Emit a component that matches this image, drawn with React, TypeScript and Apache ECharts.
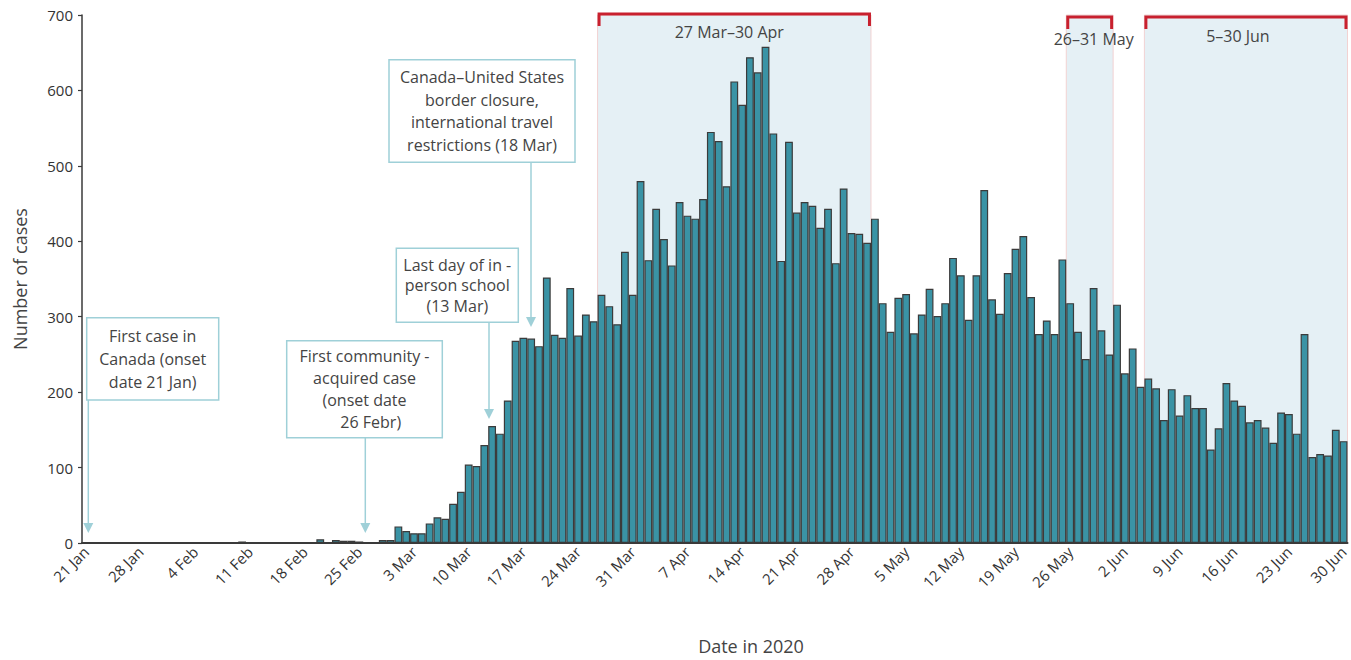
import React, { useEffect, useRef } from "react";
import * as echarts from "echarts";

// ---------- data ----------
const MONTHS = ["Jan", "Feb", "Mar", "Apr", "May", "Jun"];
const MONTH_DAYS = [31, 29, 31, 30, 31, 30];
const START_DAY = 21;

function buildDates(): string[] {
  const out: string[] = [];
  for (let m = 0; m < MONTHS.length; m++) {
    const first = m === 0 ? START_DAY : 1;
    for (let d = first; d <= MONTH_DAYS[m]; d++) out.push(`${d} ${MONTHS[m]}`);
  }
  return out;
}
const dates = buildDates(); // 21 Jan .. 30 Jun (162 days)

const cases = [
  1, 0, 0, 1, 0, 1, 0, 0, 0, 0,
  1, 1, 1, 0, 0, 1, 0, 1, 0, 0,
  2, 0, 0, 0, 1, 1, 0, 1, 1, 1,
  5, 0, 4, 3, 3, 2, 1, 1, 4, 4,
  22, 16, 13, 13, 26, 34, 32, 52, 68, 104,
  102, 130, 155, 145, 189, 268, 272, 271, 261, 352,
  276, 272, 338, 275, 303, 294, 329, 314, 290, 386,
  329, 480, 375, 443, 403, 368, 452, 434, 430, 456,
  545, 533, 473, 612, 581, 644, 624, 658, 543, 374,
  532, 438, 452, 447, 418, 443, 371, 470, 411, 410,
  398, 430, 318, 280, 325, 330, 278, 303, 337, 301,
  318, 378, 355, 296, 355, 468, 323, 304, 358, 390,
  407, 326, 277, 295, 277, 376, 318, 280, 244, 338,
  282, 250, 316, 225, 258, 207, 218, 205, 163, 204,
  169, 196, 179, 179, 124, 152, 212, 189, 182, 160,
  163, 153, 133, 173, 171, 145, 277, 114, 118, 116,
  150, 135,
];

const Y_MIN = 0;
const Y_MAX = 700;
const Y_STEP = 100;

const periods = [
  { label: "27 Mar\u201330 Apr", from: "27 Mar", to: "30 Apr" },
  { label: "26\u201331 May", from: "26 May", to: "31 May" },
  { label: "5\u201330 Jun", from: "5 Jun", to: "30 Jun" },
];

const notes = [
  { text: "First case in\nCanada (onset\ndate 21 Jan)" },
  { text: "First community -\nacquired case\n(onset date\n   26 Febr)" },
  { text: "Last day of in -\nperson school\n(13 Mar)" },
  { text: "Canada\u2013United States\nborder closure,\ninternational travel\nrestrictions (18 Mar)" },
];

// ---------- layout / style ----------
const FONT = '"Open Sans", "Noto Sans", sans-serif';
const TEXT = "#444444";
const AXIS = "#3a3a3a";
const BAR = "#3a93a5";
const SHADE = "#e5f0f5";
const RED = "#c8202e";
const NOTE = "#9fd0d8";

const bracketLayout = [
  { lineDy: -1, textDx: -5, textDy: 17 },
  { lineDy: 2, textDx: 4, textDy: 24 },
  { lineDy: 2, textDx: -8, textDy: 21 },
];

const noteLayout = [
  { box: [86.7, 317.7, 132, 82.3], lineH: 23, arrowX: 88.3, tipY: 533 },
  { box: [286.7, 340.7, 155.6, 97], lineH: 22, arrowX: 365.3, tipY: 533 },
  { box: [396.3, 248.3, 122, 74], lineH: 20.5, arrowX: 489, tipY: 419 },
  { box: [389, 59.7, 186, 102.6], lineH: 22.7, arrowX: 531, tipY: 327 },
];

function buildGraphic() {
  const g: any[] = [];
  notes.forEach((n, i) => {
    const L = noteLayout[i];
    const [x, y, w, h] = L.box;
    g.push({
      type: "rect",
      shape: { x, y, width: w, height: h },
      style: { fill: "#ffffff", stroke: NOTE, lineWidth: 1.5 },
      z: 20,
    });
    g.push({
      type: "text",
      style: {
        text: n.text,
        x: x + w / 2,
        y: y + h / 2,
        align: "center",
        textAlign: "center",
        verticalAlign: "middle",
        textVerticalAlign: "middle",
        fontSize: 16,
        fontFamily: FONT,
        lineHeight: L.lineH,
        fill: TEXT,
      },
      z: 21,
    });
    g.push({
      type: "line",
      shape: { x1: L.arrowX, y1: y + h, x2: L.arrowX, y2: L.tipY - 8 },
      style: { stroke: NOTE, lineWidth: 1.5 },
      z: 20,
    });
    g.push({
      type: "polygon",
      shape: {
        points: [
          [L.arrowX - 5, L.tipY - 10],
          [L.arrowX + 5, L.tipY - 10],
          [L.arrowX, L.tipY],
        ],
      },
      style: { fill: NOTE },
      z: 20,
    });
  });
  g.push({
    type: "text",
    style: {
      text: "Number of cases",
      x: 0,
      y: 0,
      align: "center",
      textAlign: "center",
      verticalAlign: "middle",
      textVerticalAlign: "middle",
      fontSize: 18,
      fontFamily: FONT,
      fill: TEXT,
    },
    x: 20,
    y: 279,
    rotation: Math.PI / 2,
    z: 20,
  });
  g.push({
    type: "text",
    style: {
      text: "Date in 2020",
      x: 751,
      y: 646,
      align: "center",
      textAlign: "center",
      verticalAlign: "middle",
      textVerticalAlign: "middle",
      fontSize: 18,
      fontFamily: FONT,
      fill: TEXT,
    },
    z: 20,
  });
  return g;
}

export default function App() {
  const ref = useRef<HTMLDivElement>(null);

  useEffect(() => {
    document.body.style.margin = "0";
    if (!ref.current) return;
    const chart = echarts.init(ref.current, null, { renderer: "svg" });

    const periodIdx = periods.map((p, i) => [
      dates.indexOf(p.from),
      dates.indexOf(p.to) + 1,
      i,
    ]);

    const option: any = {
      animation: false,
      backgroundColor: "#ffffff",
      grid: { left: 82, right: 1, top: 15, bottom: 117, containLabel: false },
      xAxis: [
        {
          type: "category",
          data: dates,
          boundaryGap: true,
          z: 10,
          axisLine: { show: true, lineStyle: { color: AXIS, width: 2 } },
          axisTick: { show: false },
          axisLabel: {
            interval: 6,
            rotate: 45,
            fontSize: 15,
            fontFamily: FONT,
            color: "#333333",
            margin: 6,
          },
          splitLine: { show: false },
        },
        {
          type: "value",
          min: 0,
          max: dates.length,
          show: false,
        },
      ],
      yAxis: {
        type: "value",
        min: Y_MIN,
        max: Y_MAX,
        interval: Y_STEP,
        z: 10,
        axisLine: { show: true, lineStyle: { color: AXIS, width: 1.5 } },
        axisTick: { show: true, length: 4, lineStyle: { color: AXIS, width: 1.2 } },
        axisLabel: { fontSize: 15, fontFamily: FONT, color: "#333333", margin: 9 },
        splitLine: { show: false },
      },
      series: [
        {
          type: "line",
          xAxisIndex: 1,
          data: [[0, 0]],
          symbol: "none",
          lineStyle: { opacity: 0 },
          silent: true,
          z: 1,
          markArea: {
            silent: true,
            itemStyle: { color: SHADE, borderColor: "#f2d2d2", borderWidth: 1 },
            data: periodIdx.map((p) => [
              { xAxis: p[0], yAxis: Y_MIN },
              { xAxis: p[1], yAxis: Y_MAX },
            ]),
          },
        },
        {
          type: "bar",
          data: cases,
          barCategoryGap: "0%",
          z: 3,
          itemStyle: { color: BAR, borderColor: "#3b3b3b", borderWidth: 1.2 },
        },
        {
          type: "custom",
          xAxisIndex: 1,
          yAxisIndex: 0,
          clip: false,
          silent: true,
          z: 5,
          data: periodIdx,
          encode: { x: [0, 1] },
          renderItem: (params: any, api: any) => {
            const i = api.value(2);
            const s = api.coord([api.value(0), Y_MAX]);
            const e = api.coord([api.value(1), Y_MAX]);
            const L = bracketLayout[i];
            const y = s[1] + L.lineDy;
            const x0 = s[0] + 1.5;
            const x1 = e[0] - 1.5;
            return {
              type: "group",
              children: [
                {
                  type: "polyline",
                  shape: { points: [[x0, y + 12], [x0, y], [x1, y], [x1, y + 12]] },
                  style: { stroke: RED, lineWidth: 3, fill: null },
                },
                {
                  type: "text",
                  style: {
                    text: periods[i].label,
                    x: (s[0] + e[0]) / 2 + L.textDx,
                    y: s[1] + L.textDy,
                    align: "center",
                    verticalAlign: "middle",
                    fontSize: 16,
                    fontFamily: FONT,
                    fill: TEXT,
                  },
                },
              ],
            };
          },
        },
      ],
      graphic: buildGraphic(),
    };

    chart.setOption(option);
    return () => chart.dispose();
  }, []);

  return <div ref={ref} style={{ width: 1351, height: 660 }} />;
}
